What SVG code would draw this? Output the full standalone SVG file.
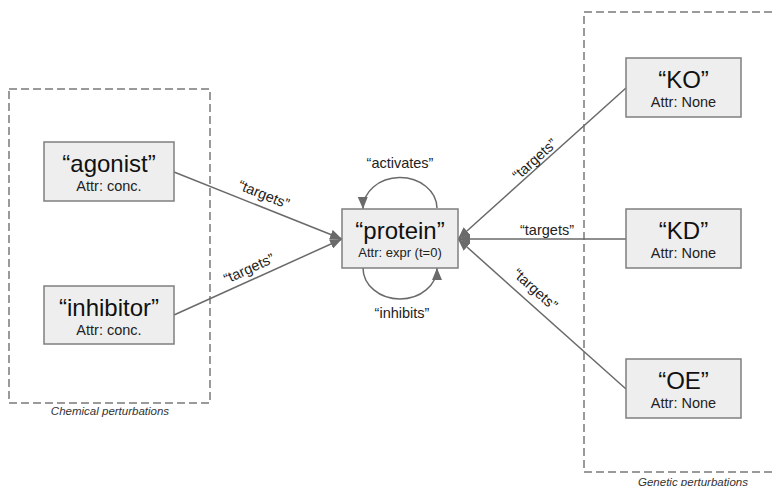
<svg xmlns="http://www.w3.org/2000/svg" width="774" height="486" viewBox="0 0 774 486">
  <style>
    .group { fill: none; stroke: #7a7a7a; stroke-width: 1.5; stroke-dasharray: 8 4; }
    .group-label { font-family: "Liberation Sans", Arial, sans-serif; font-size: 11.5px; font-style: italic; fill: #333; text-anchor: middle; }
    .box { fill: #eeeeee; stroke: #7f7f7f; stroke-width: 1.5; }
    .title { font-family: "Liberation Sans", Arial, sans-serif; font-size: 24px; fill: #111; text-anchor: middle; }
    .sub { font-family: "Liberation Sans", Arial, sans-serif; font-size: 14.5px; fill: #222; text-anchor: middle; }
    .edge { fill: none; stroke: #6a6a6a; stroke-width: 1.5; marker-end: url(#arrow); }
    .elabel { font-family: "Liberation Sans", Arial, sans-serif; font-size: 14.5px; fill: #222; text-anchor: middle; }
  </style>
  <defs>
    <marker id="arrow" viewBox="0 0 12 10" refX="12" refY="5" markerWidth="12" markerHeight="10" markerUnits="userSpaceOnUse" orient="auto">
      <path d="M0,0 L12,5 L0,10 z" fill="#6a6a6a"/>
    </marker>
  </defs>

  <rect width="774" height="486" fill="#ffffff"/>

  <!-- perturbation groups -->
  <g id="chemical-group">
    <rect class="group" x="9" y="89" width="201" height="314"/>
    <text class="group-label" x="110" y="415">Chemical perturbations</text>
  </g>
  <g id="genetic-group">
    <rect class="group" x="584" y="12" width="200" height="460"/>
    <text class="group-label" x="693" y="486">Genetic perturbations</text>
  </g>

  <!-- connectors -->
  <g id="connectors">
    <line class="edge" x1="174" y1="172" x2="342" y2="239"/>
    <line class="edge" x1="174" y1="315" x2="342" y2="239"/>
    <line class="edge" x1="626" y1="88" x2="458" y2="239"/>
    <line class="edge" x1="626" y1="239" x2="458" y2="239"/>
    <line class="edge" x1="626" y1="389" x2="458" y2="239"/>
    <path class="edge" d="M437,208 A37,31 0 0 0 363,209"/>
    <path class="edge" d="M363,268 A37,31 0 0 0 437,268"/>

    <text class="elabel" transform="translate(262,199) rotate(21.7)">“targets”</text>
    <text class="elabel" transform="translate(251,273) rotate(-24.3)">“targets”</text>
    <text class="elabel" transform="translate(538,163) rotate(-42)">“targets”</text>
    <text class="elabel" x="547" y="235">“targets”</text>
    <text class="elabel" transform="translate(532,293) rotate(41.8)">“targets”</text>
    <text class="elabel" x="400" y="168">“activates”</text>
    <text class="elabel" x="402" y="318">“inhibits”</text>
  </g>

  <!-- nodes -->
  <g id="agonist">
    <rect class="box" x="44" y="142" width="130" height="59"/>
    <text class="title" x="109" y="172">“agonist”</text>
    <text class="sub" x="109" y="191">Attr: conc.</text>
  </g>
  <g id="inhibitor">
    <rect class="box" x="44" y="286" width="130" height="58"/>
    <text class="title" x="109" y="316">“inhibitor”</text>
    <text class="sub" x="109" y="335">Attr: conc.</text>
  </g>
  <g id="protein">
    <rect class="box" x="342" y="209" width="116" height="59"/>
    <text class="title" x="400" y="239">“protein”</text>
    <text class="sub" x="400" y="257" style="font-size:13px">Attr: expr (t=0)</text>
  </g>
  <g id="ko">
    <rect class="box" x="626" y="58" width="115" height="59"/>
    <text class="title" x="683.5" y="88">“KO”</text>
    <text class="sub" x="683.5" y="107">Attr: None</text>
  </g>
  <g id="kd">
    <rect class="box" x="626" y="209" width="115" height="59"/>
    <text class="title" x="683.5" y="239">“KD”</text>
    <text class="sub" x="683.5" y="258">Attr: None</text>
  </g>
  <g id="oe">
    <rect class="box" x="626" y="359" width="115" height="59"/>
    <text class="title" x="683.5" y="389">“OE”</text>
    <text class="sub" x="683.5" y="408">Attr: None</text>
  </g>
</svg>
